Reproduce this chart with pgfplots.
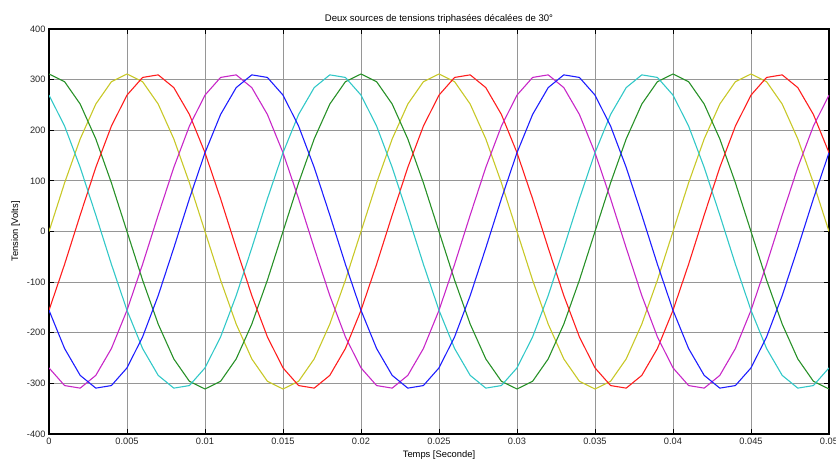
\documentclass[border=0pt]{standalone}
\usepackage{pgfplots}
\usepackage{pgfplotstable}
\pgfplotsset{compat=1.18}
\usepackage{fontspec}
\setmainfont{Liberation Sans}
\definecolor{colY}{RGB}{200,200,40}
\definecolor{colG}{RGB}{40,145,40}
\definecolor{colR}{RGB}{255,30,30}
\definecolor{colM}{RGB}{200,40,200}
\definecolor{colC}{RGB}{50,200,200}
\definecolor{colB}{RGB}{30,30,255}
\definecolor{gridc}{RGB}{150,150,150}
\pgfplotstableread{
t y g r m c b
0.000 0 311.1 -155.6 -269.4 269.4 -155.6
0.001 96.1 295.9 -64.7 -304.3 208.2 -231.2
0.002 182.9 251.7 32.5 -309.4 126.6 -284.2
0.003 251.7 182.9 126.6 -284.2 32.5 -309.4
0.004 295.9 96.1 208.2 -231.2 -64.7 -304.3
0.005 311.1 0 269.4 -155.6 -155.6 -269.4
0.006 295.9 -96.1 304.3 -64.7 -231.2 -208.2
0.007 251.7 -182.9 309.4 32.5 -284.2 -126.6
0.008 182.9 -251.7 284.2 126.6 -309.4 -32.5
0.009 96.1 -295.9 231.2 208.2 -304.3 64.7
0.010 0 -311.1 155.6 269.4 -269.4 155.6
0.011 -96.1 -295.9 64.7 304.3 -208.2 231.2
0.012 -182.9 -251.7 -32.5 309.4 -126.6 284.2
0.013 -251.7 -182.9 -126.6 284.2 -32.5 309.4
0.014 -295.9 -96.1 -208.2 231.2 64.7 304.3
0.015 -311.1 0 -269.4 155.6 155.6 269.4
0.016 -295.9 96.1 -304.3 64.7 231.2 208.2
0.017 -251.7 182.9 -309.4 -32.5 284.2 126.6
0.018 -182.9 251.7 -284.2 -126.6 309.4 32.5
0.019 -96.1 295.9 -231.2 -208.2 304.3 -64.7
0.020 0 311.1 -155.6 -269.4 269.4 -155.6
0.021 96.1 295.9 -64.7 -304.3 208.2 -231.2
0.022 182.9 251.7 32.5 -309.4 126.6 -284.2
0.023 251.7 182.9 126.6 -284.2 32.5 -309.4
0.024 295.9 96.1 208.2 -231.2 -64.7 -304.3
0.025 311.1 0 269.4 -155.6 -155.6 -269.4
0.026 295.9 -96.1 304.3 -64.7 -231.2 -208.2
0.027 251.7 -182.9 309.4 32.5 -284.2 -126.6
0.028 182.9 -251.7 284.2 126.6 -309.4 -32.5
0.029 96.1 -295.9 231.2 208.2 -304.3 64.7
0.030 0 -311.1 155.6 269.4 -269.4 155.6
0.031 -96.1 -295.9 64.7 304.3 -208.2 231.2
0.032 -182.9 -251.7 -32.5 309.4 -126.6 284.2
0.033 -251.7 -182.9 -126.6 284.2 -32.5 309.4
0.034 -295.9 -96.1 -208.2 231.2 64.7 304.3
0.035 -311.1 0 -269.4 155.6 155.6 269.4
0.036 -295.9 96.1 -304.3 64.7 231.2 208.2
0.037 -251.7 182.9 -309.4 -32.5 284.2 126.6
0.038 -182.9 251.7 -284.2 -126.6 309.4 32.5
0.039 -96.1 295.9 -231.2 -208.2 304.3 -64.7
0.040 0 311.1 -155.6 -269.4 269.4 -155.6
0.041 96.1 295.9 -64.7 -304.3 208.2 -231.2
0.042 182.9 251.7 32.5 -309.4 126.6 -284.2
0.043 251.7 182.9 126.6 -284.2 32.5 -309.4
0.044 295.9 96.1 208.2 -231.2 -64.7 -304.3
0.045 311.1 0 269.4 -155.6 -155.6 -269.4
0.046 295.9 -96.1 304.3 -64.7 -231.2 -208.2
0.047 251.7 -182.9 309.4 32.5 -284.2 -126.6
0.048 182.9 -251.7 284.2 126.6 -309.4 -32.5
0.049 96.1 -295.9 231.2 208.2 -304.3 64.7
0.050 0 -311.1 155.6 269.4 -269.4 155.6
}\data
\begin{document}
\begin{tikzpicture}
\begin{axis}[
  scale only axis,
  width=780bp, height=405bp,
  xmin=0, xmax=0.05, ymin=-400, ymax=400,
  scaled x ticks=false, scaled y ticks=false,
  xtick={0,0.005,0.01,0.015,0.02,0.025,0.03,0.035,0.04,0.045,0.05},
  xticklabels={0,0.005,0.01,0.015,0.02,0.025,0.03,0.035,0.04,0.045,0.05},
  ytick={-400,-300,-200,-100,0,100,200,300,400},
  yticklabels={-400,-300,-200,-100,0,100,200,300,400},
  tick align=inside,
  major tick length=5bp,
  tick style={black, line width=0.8bp},
  grid=major,
  grid style={gridc, line width=1bp},
  axis line style={black, line width=1.3bp},
  ticklabel style={font=\fontsize{9.3}{11}\selectfont, text=black!85},
  xticklabel style={yshift=-1bp},
  title={Deux sources de tensions triphasées décalées de 30°},
  title style={font=\fontsize{9.6}{11}\selectfont, yshift=-4bp},
  xlabel={Temps [Seconde]},
  ylabel={Tension [Volts]},
  label style={font=\fontsize{9.4}{11}\selectfont},
  xlabel style={yshift=1bp},
  ylabel style={yshift=0bp},
  every axis plot/.append style={line width=1.1bp, mark=none},
]
\addplot[colY] table[x=t, y=y] {\data};
\addplot[colG] table[x=t, y=g] {\data};
\addplot[colR] table[x=t, y=r] {\data};
\addplot[colM] table[x=t, y=m] {\data};
\addplot[colC] table[x=t, y=c] {\data};
\addplot[colB] table[x=t, y=b] {\data};
\end{axis}
\pgfresetboundingbox
\path ([xshift=-49bp,yshift=-27bp]current axis.south west) rectangle ([xshift=7bp,yshift=29bp]current axis.north east);
\end{tikzpicture}
\end{document}
